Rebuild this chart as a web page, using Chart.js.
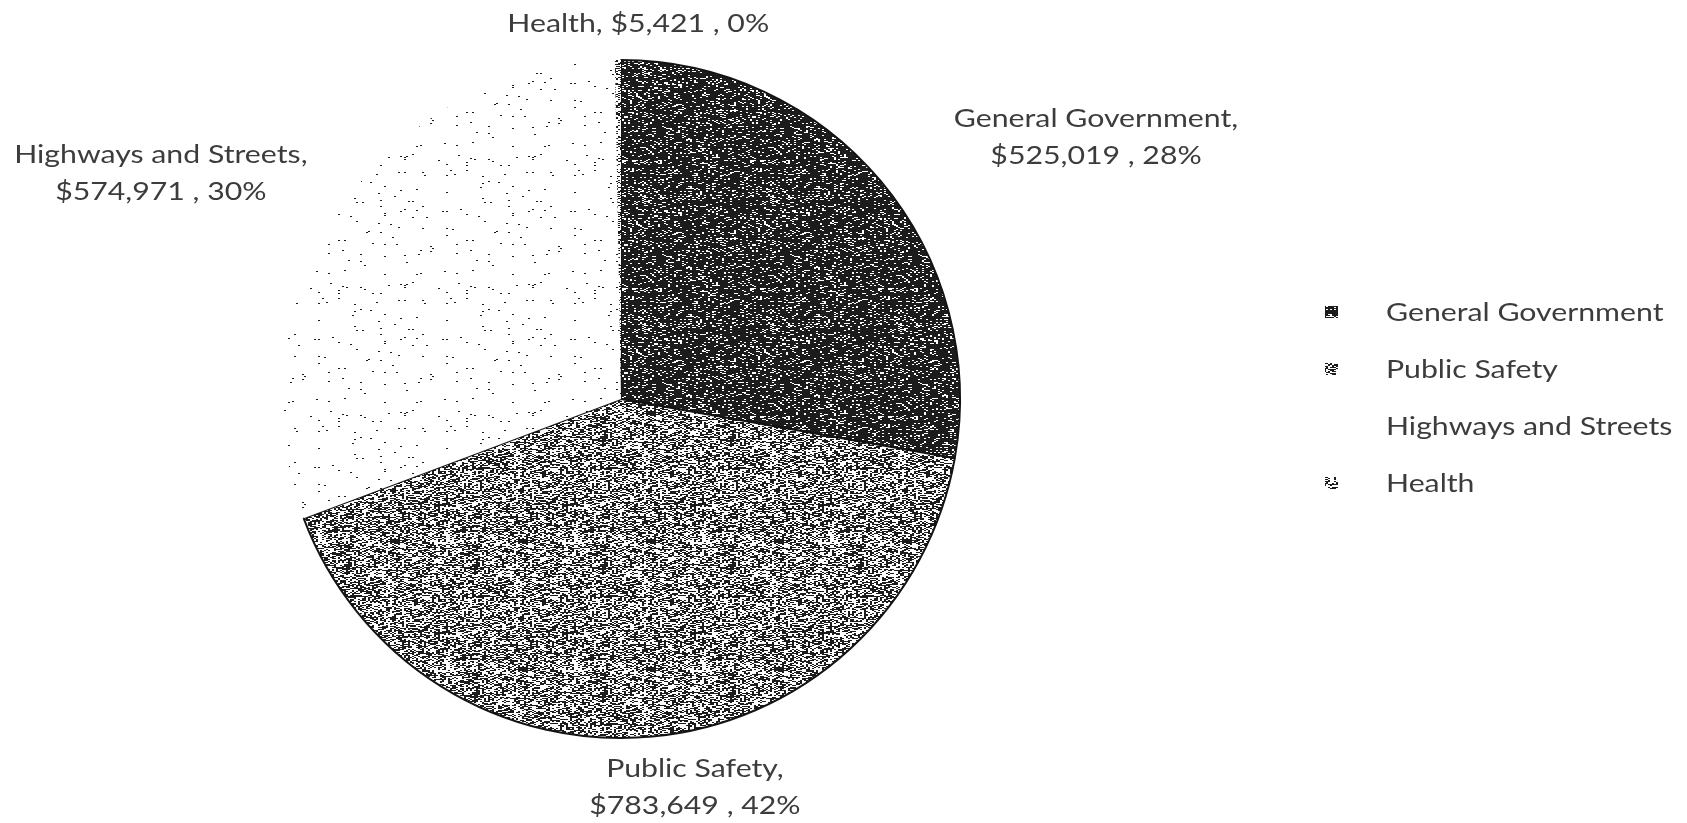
<!DOCTYPE html>
<html>
<head>
<meta charset="utf-8">
<script src="https://cdn.jsdelivr.net/npm/chart.js@4.4.1/dist/chart.umd.min.js"></script>
<style>
  html, body { margin: 0; padding: 0; background: #fff; }
  #wrap { width: 1687px; height: 823px; position: relative; }
</style>
</head>
<body>
<div id="wrap"><canvas id="pie"></canvas></div>
<script>
const categories = ['General Government', 'Public Safety', 'Highways and Streets', 'Health'];
const amounts = [525019, 783649, 574971, 5421];
const percents = ['28%', '42%', '30%', '0%'];

const FONT = '25px Lato';
const TEXT_COLOR = '#3c3c3c';
const STRETCH = 1.21; // scan is a bit wider than the font

// stipple fill like the scanned print (fixed hash, same every run)
function makePattern(density, w, h) {
    const c = document.createElement('canvas');
    c.width = w;
    c.height = h;
    const g = c.getContext('2d');
    g.fillStyle = '#ffffff';
    g.fillRect(0, 0, w, h);
    g.fillStyle = '#1c1c1c';
    for (let y = 0; y < h; y++) {
        for (let x = 0; x < w; x += 2) {
            let k = (x * 374761393 + y * 668265263) | 0;
            k = Math.imul(k ^ (k >>> 13), 1274126177);
            k ^= k >>> 16;
            const n = (k >>> 0) / 4294967296;
            if (n < density) g.fillRect(x, y, 2, 1);
        }
    }
    return g.createPattern(c, 'repeat');
}

const fills = [
    makePattern(0.84, 128, 128),
    makePattern(0.5, 128, 128),
    makePattern(0.01, 128, 128),
    makePattern(0.35, 128, 128)
];

function money(v) {
    return '$' + v.toLocaleString('en-US');
}

function labelLines(i) {
    if (i === 3) return [categories[i] + ', ' + money(amounts[i]) + ' , ' + percents[i]];
    return [categories[i] + ',', money(amounts[i]) + ' , ' + percents[i]];
}

function drawStretched(ctx, text, x, y, sx) {
    ctx.save();
    ctx.translate(x, y);
    ctx.scale(sx, 1);
    ctx.fillText(text, 0, 0);
    ctx.restore();
}

// data labels outside the slices, placed like the excel "best fit"
const sliceLabels = {
    id: 'sliceLabels',
    afterDatasetsDraw(chart, args, opts) {
        const ctx = chart.ctx;
        const arcs = chart.getDatasetMeta(0).data;
        ctx.save();
        ctx.font = FONT;
        ctx.fillStyle = TEXT_COLOR;
        ctx.textAlign = 'center';
        ctx.textBaseline = 'alphabetic';
        arcs.forEach((arc, i) => {
            const deg = opts.placement[i][0];
            const f = opts.placement[i][1];
            const a = deg * Math.PI / 180;
            const cx = arc.x + arc.outerRadius * f * Math.sin(a);
            const cy = arc.y - arc.outerRadius * f * Math.cos(a);
            const lines = labelLines(i);
            const first = cy - (lines.length - 1) * opts.lineHeight / 2 + opts.baseShift;
            lines.forEach((t, k) => drawStretched(ctx, t, cx, first + k * opts.lineHeight, STRETCH));
        });
        ctx.restore();
    }
};

// legend on the right, drawn by hand for the wide gap between box and text
const sideLegend = {
    id: 'sideLegend',
    afterDraw(chart, args, opts) {
        const ctx = chart.ctx;
        const ds = chart.data.datasets[0];
        ctx.save();
        ctx.font = FONT;
        ctx.textAlign = 'left';
        ctx.textBaseline = 'alphabetic';
        chart.data.labels.forEach((name, i) => {
            const base = opts.y + i * opts.step;
            const mid = base - 9;
            if (i !== 2) {
                ctx.fillStyle = ds.backgroundColor[i];
                ctx.fillRect(opts.boxX, mid - 6, 13, 12);
            }
            ctx.fillStyle = TEXT_COLOR;
            drawStretched(ctx, name, opts.textX, base, STRETCH);
        });
        ctx.restore();
    }
};

new Chart(document.getElementById('pie'), {
    type: 'pie',
    data: {
        labels: categories,
        datasets: [{
            data: amounts,
            backgroundColor: fills,
            borderColor: ['#141414', '#141414', 'rgba(0,0,0,0)', 'rgba(0,0,0,0)'],
            borderWidth: 2
        }]
    },
    options: {
        responsive: true,
        maintainAspectRatio: false,
        animation: false,
        events: [],
        layout: {
            padding: { top: 59, bottom: 84, left: 281, right: 726 }
        },
        plugins: {
            legend: { display: false },
            tooltip: { enabled: false },
            sliceLabels: {
                placement: [[60.75, 1.606], [169.1, 1.153], [296.6, 1.518], [2.6, 1.121]],
                lineHeight: 37,
                baseShift: 13
            },
            sideLegend: {
                boxX: 1325,
                textX: 1386,
                y: 321,
                step: 57
            }
        }
    },
    plugins: [sliceLabels, sideLegend]
});
</script>
</body>
</html>
